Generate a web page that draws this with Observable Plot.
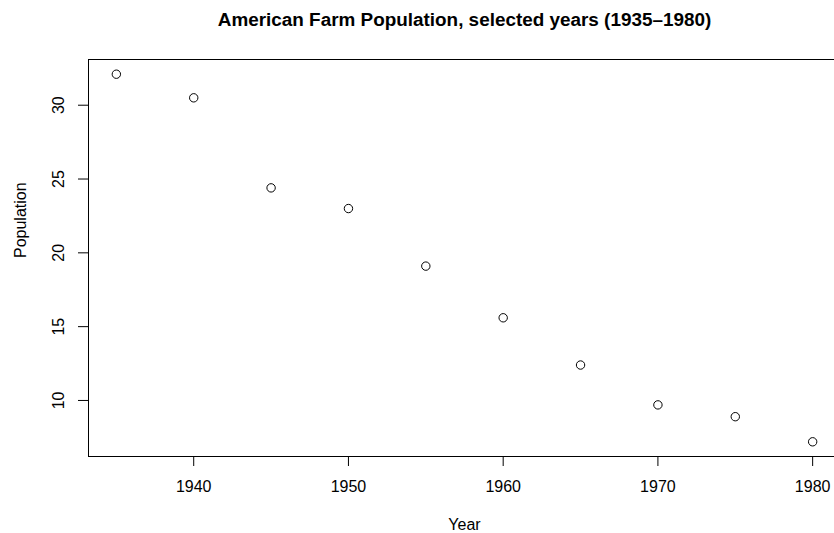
<!DOCTYPE html>
<html><head><meta charset="utf-8">
<script src="https://cdn.jsdelivr.net/npm/d3@7"></script>
<script src="https://cdn.jsdelivr.net/npm/@observablehq/plot@0.6"></script>
<style>
body{margin:0;background:#fff}
svg{font-family:"Liberation Sans",Arial,Helvetica,sans-serif}
</style></head><body><div id="chart"></div>
<script>
const years = [1935, 1940, 1945, 1950, 1955, 1960, 1965, 1970, 1975, 1980];
const population = [32.1, 30.5, 24.4, 23.0, 19.1, 15.6, 12.4, 9.7, 8.9, 7.2];
const xTicks = [1940, 1950, 1960, 1970, 1980];
const yTicks = [10, 15, 20, 25, 30];
const title = "American Farm Population, selected years (1935–1980)";
const xLabel = "Year";
const yLabel = "Population";

const data = years.map((y, i) => ({year: y, pop: population[i]}));
const [xmin, xmax] = d3.extent(years);
const [ymin, ymax] = d3.extent(population);
const xpad = 0.04 * (xmax - xmin), ypad = 0.04 * (ymax - ymin);
const xDomain = [xmin - xpad, xmax + xpad];
const yDomain = [ymin - ypad, ymax + ypad];

const W = 834, H = 533, ML = 88, MT = 59, MB = 77;
const chart = Plot.plot({
  width: W, height: H,
  marginLeft: ML, marginRight: 0, marginTop: MT, marginBottom: MB,
  style: {fontFamily: '"Liberation Sans",Arial,Helvetica,sans-serif', background: "#fff", color: "#000"},
  x: {domain: xDomain, range: [ML, 840]},
  y: {domain: yDomain, range: [H - MB, MT]},
  marks: [
    Plot.ruleY([yDomain[0], yDomain[1]], {stroke: "#000", strokeWidth: 1}),
    Plot.ruleX([xDomain[0]], {stroke: "#000", strokeWidth: 1}),
    Plot.axisX({ticks: xTicks, tickSize: 10, tickPadding: 14, fontSize: 16, label: null, tickFormat: d => String(d), stroke: "#000", fill: "#000"}),
    Plot.axisY({ticks: yTicks, tickSize: 10, tickFormat: () => "", label: null, stroke: "#000"}),
    Plot.text(yTicks, {y: d => d, text: d => String(d), frameAnchor: "left", dx: -29.5, rotate: -90, fontSize: 16, fill: "#000", lineAnchor: "middle", textAnchor: "middle"}),
    Plot.dot(data, {x: "year", y: "pop", r: 4.2, stroke: "#000", strokeWidth: 1, fill: "none"}),
    Plot.text([xLabel], {text: d => d, frameAnchor: "bottom", dx: 3, dy: 68.5, fontSize: 16, fill: "#000", lineAnchor: "middle"}),
    Plot.text([yLabel], {text: d => d, frameAnchor: "left", dx: -68, rotate: -90, fontSize: 16, fill: "#000", lineAnchor: "middle"}),
    Plot.text([title], {text: d => d, frameAnchor: "top", dx: 3, dy: -39.5, fontSize: 18.9, fontWeight: "bold", fill: "#000", lineAnchor: "middle"})
  ]
});
document.getElementById("chart").append(chart);
</script></body></html>
